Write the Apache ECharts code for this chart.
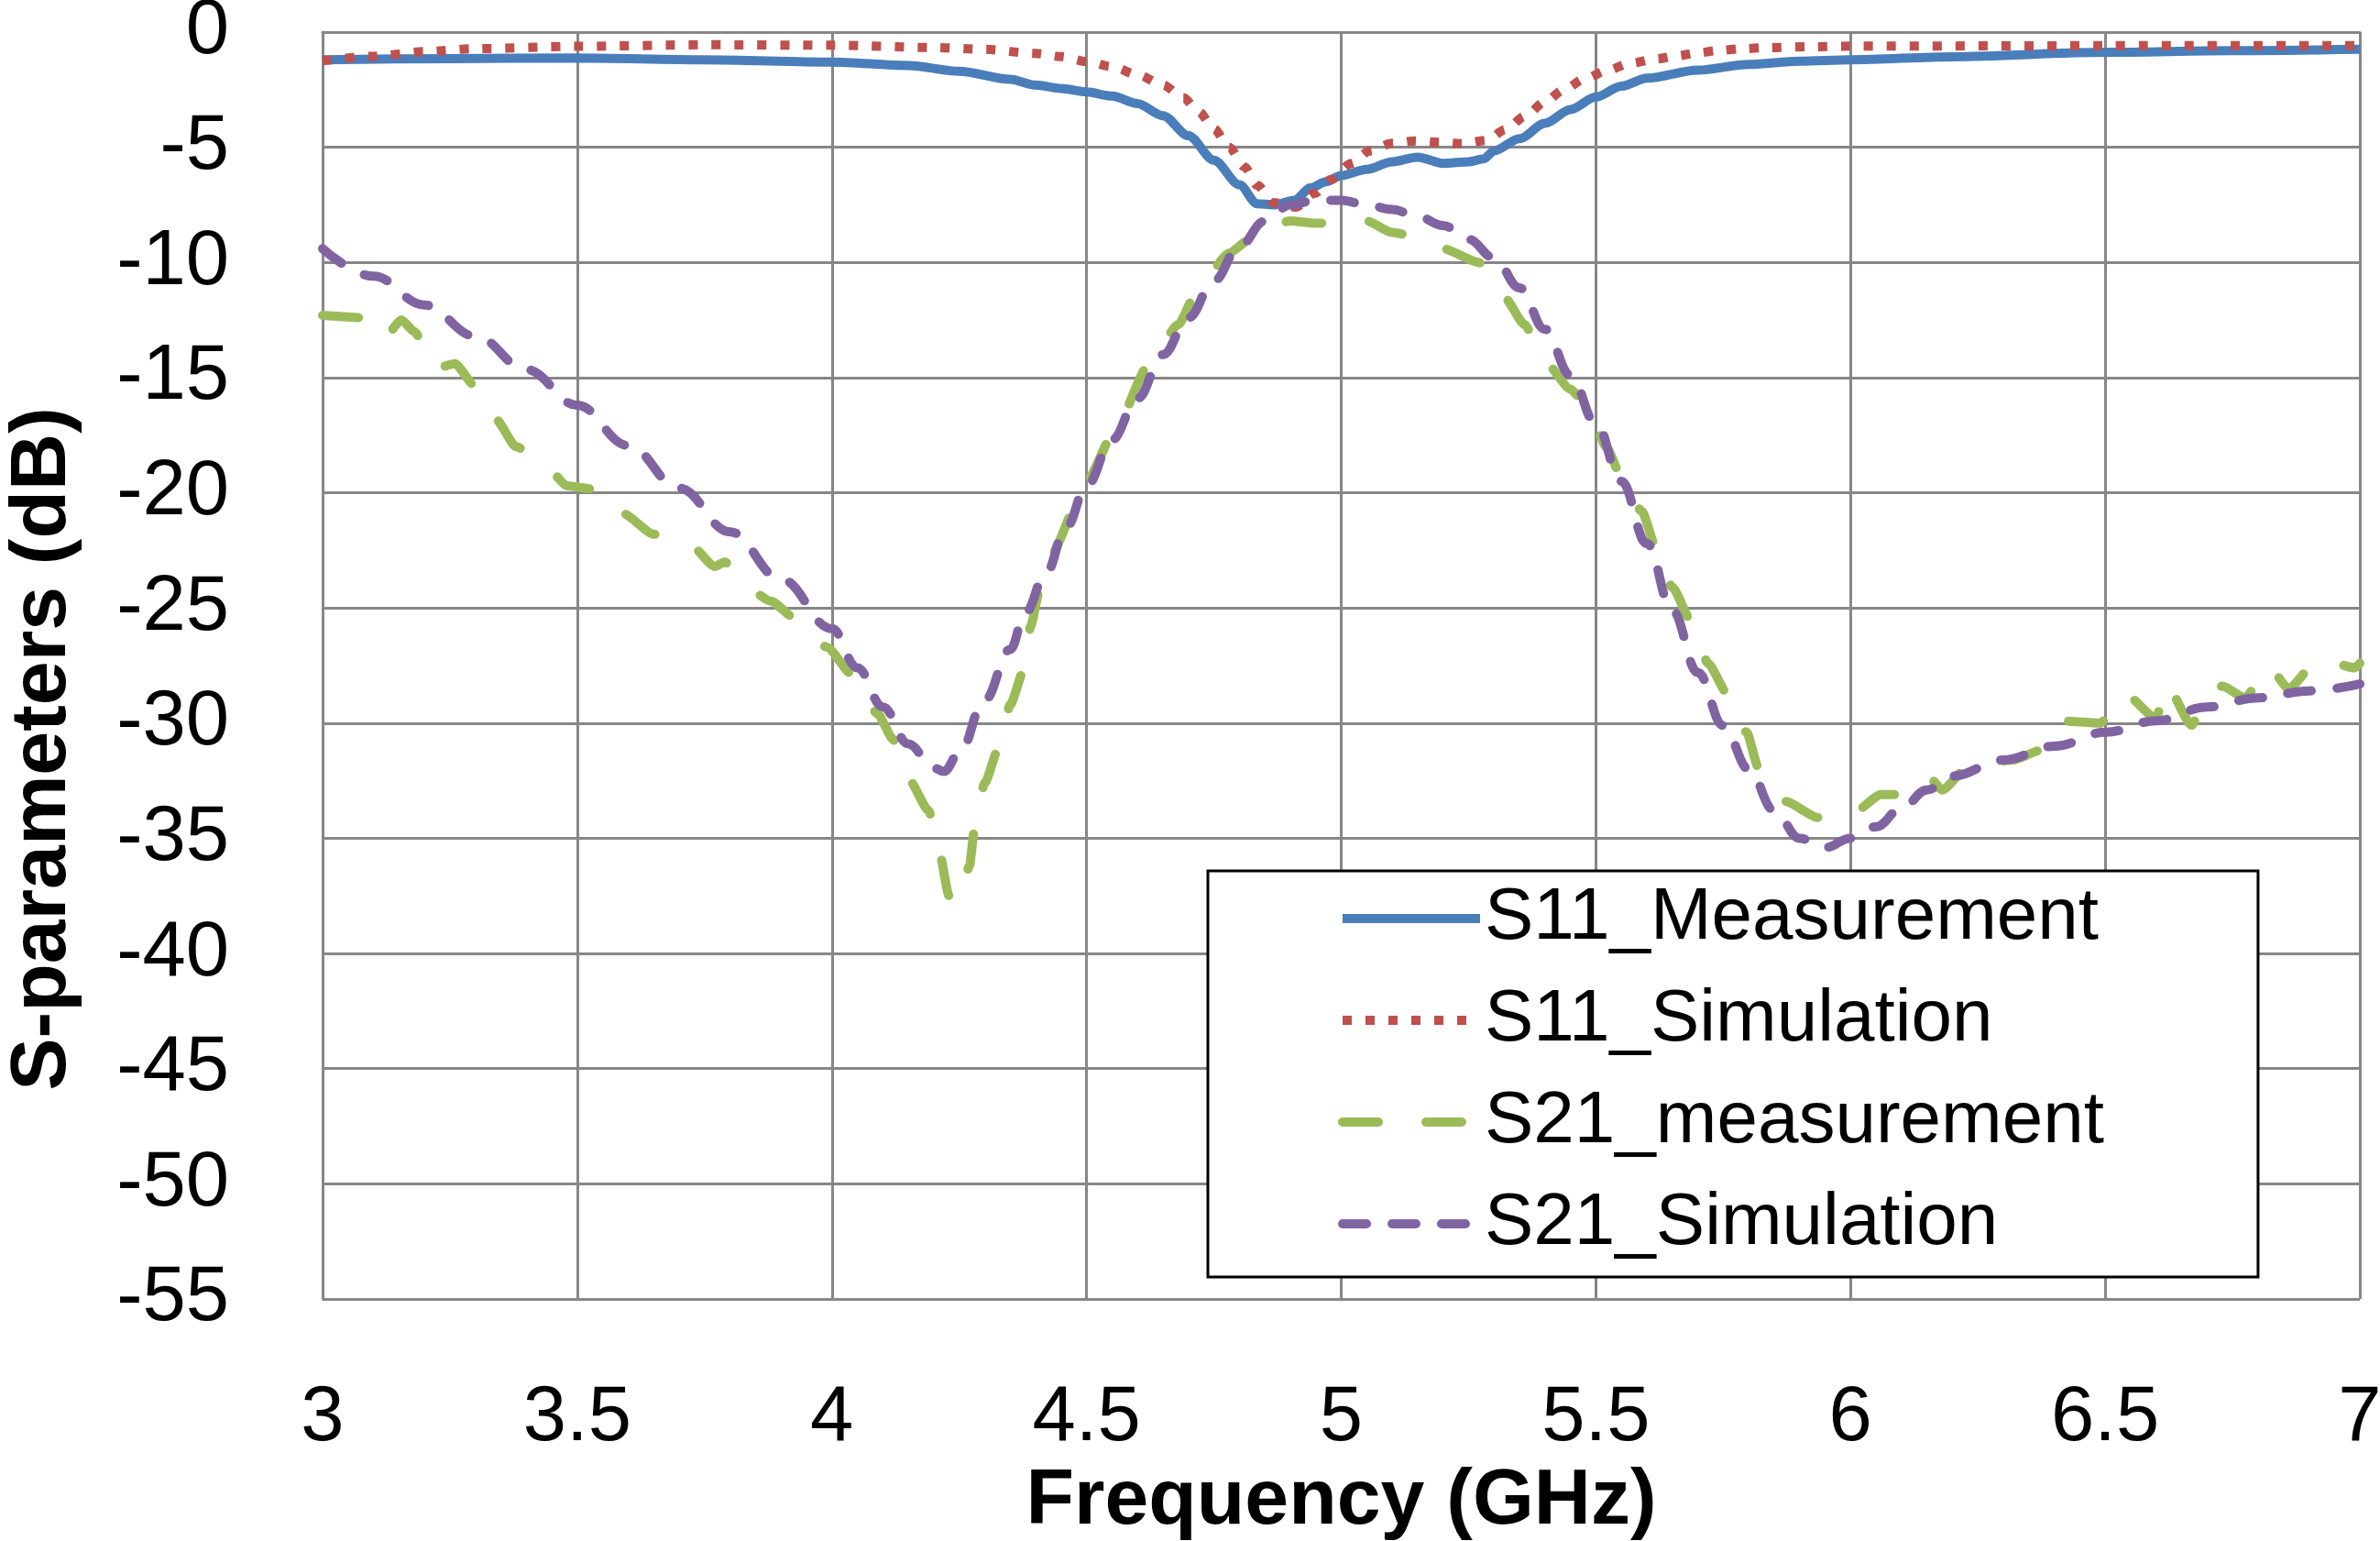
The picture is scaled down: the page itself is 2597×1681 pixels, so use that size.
<!DOCTYPE html>
<html>
<head>
<meta charset="utf-8">
<title>S-parameters</title>
<script src="https://cdn.jsdelivr.net/npm/echarts@6/dist/echarts.min.js"></script>
<style>
    html, body {margin: 0; padding: 0; background: #fff;}
    #chart {width: 2597px; height: 1681px;}
</style>
</head>
<body>
<div id="chart"></div>
<script>
// ------------------ data ------------------
const s11MeasFreq = [3.0, 3.25, 3.5, 3.75, 4.0, 4.15, 4.25, 4.35, 4.4, 4.45, 4.5, 4.55, 4.6, 4.65, 4.7, 4.75, 4.8, 4.835, 4.868, 4.908,
    4.94, 4.97, 5.0, 5.05, 5.1, 5.15, 5.2, 5.25, 5.28, 5.3, 5.35, 5.4, 5.45, 5.5, 5.55, 5.6, 5.7, 5.8, 5.9, 6.0, 6.2, 6.5, 6.75, 7.0];
const s11MeasDb = [-1.2, -1.15, -1.12, -1.2, -1.3, -1.45, -1.7, -2.05, -2.3, -2.45, -2.6, -2.78, -3.1, -3.63, -4.5, -5.56, -6.63, -7.45, -7.5, -7.3,
    -6.76, -6.5, -6.23, -5.96, -5.63, -5.43, -5.7, -5.63, -5.5, -5.16, -4.63, -3.96, -3.36, -2.82, -2.35, -2.0, -1.65, -1.4, -1.26, -1.2, -1.07, -0.88, -0.81, -0.75];

const s11SimFreq = [3.0, 3.1, 3.2, 3.3, 3.5, 3.75, 4.0, 4.2, 4.3, 4.4, 4.45, 4.5, 4.55, 4.6, 4.65, 4.69, 4.72, 4.75, 4.78, 4.81,
    4.835, 4.866, 4.91, 4.948, 4.98, 5.02, 5.056, 5.1, 5.144, 5.193, 5.237, 5.285, 5.323, 5.361, 5.4, 5.437, 5.478, 5.522, 5.566, 5.62,
    5.66, 5.7, 5.74, 5.79, 5.83, 5.92, 6.0, 6.5, 7.0];
const s11SimDb = [-1.25, -1.05, -0.85, -0.72, -0.62, -0.55, -0.57, -0.67, -0.75, -0.93, -1.06, -1.28, -1.5, -1.85, -2.3, -2.85, -3.45, -4.2, -5.0, -5.85,
    -6.65, -7.4, -7.6, -7.0, -6.4, -5.7, -5.16, -4.83, -4.73, -4.79, -4.84, -4.7, -4.23, -3.65, -3.03, -2.5, -2.03, -1.67, -1.36, -1.16,
    -1.03, -0.9, -0.8, -0.72, -0.68, -0.64, -0.61, -0.59, -0.59];

const s21MeasFreq = [3.0, 3.08, 3.12, 3.155, 3.18, 3.22, 3.26, 3.3, 3.34, 3.38, 3.43, 3.48, 3.55, 3.59, 3.65, 3.72, 3.77, 3.79, 3.82, 3.88,
    3.93, 3.99, 4.04, 4.09, 4.12, 4.15, 4.19, 4.21, 4.23, 4.25, 4.27, 4.28, 4.3, 4.33, 4.35, 4.38, 4.39, 4.41, 4.43, 4.5,
    4.56, 4.62, 4.68, 4.72, 4.78, 4.82, 4.85, 4.9, 4.95, 5.0, 5.05, 5.1, 5.15, 5.2, 5.27, 5.32, 5.36, 5.4, 5.45, 5.49,
    5.52, 5.55, 5.59, 5.62, 5.65, 5.69, 5.72, 5.76, 5.796, 5.82, 5.873, 5.935, 6.0, 6.06, 6.126, 6.157, 6.18, 6.234, 6.32, 6.37,
    6.41, 6.49, 6.538, 6.6, 6.62, 6.67, 6.7, 6.73, 6.775, 6.82, 6.86, 6.92, 6.99, 7.0];
const s21MeasDb = [-12.3, -12.4, -13.3, -12.5, -13.0, -14.6, -14.4, -15.4, -16.8, -18.0, -18.6, -19.7, -19.9, -20.9, -21.8, -22.2, -23.2, -23.0, -23.9, -24.7,
    -25.5, -26.7, -27.9, -29.6, -30.7, -32.4, -33.8, -35.5, -37.5, -37.8, -36.2, -34.6, -32.6, -30.9, -29.2, -27.5, -25.8, -24.0, -22.7, -19.5,
    -17.1, -14.5, -12.7, -11.1, -9.6, -9.0, -8.5, -8.2, -8.3, -8.3, -8.2, -8.7, -8.9, -9.4, -10.0, -11.5, -12.7, -14.3, -15.5, -16.5,
    -18.0, -19.3, -20.8, -22.5, -24.1, -25.7, -27.4, -28.8, -30.4, -32.0, -33.4, -34.1, -34.0, -33.1, -33.1, -32.4, -32.9, -31.8, -31.6, -31.2,
    -29.9, -30.0, -28.7, -29.8, -28.3, -30.1, -28.6, -28.4, -28.9, -27.5, -28.5, -27.2, -27.6, -27.4];

const s21SimFreq = [3.0, 3.1, 3.2, 3.3, 3.4, 3.5, 3.6, 3.7, 3.8, 3.9, 4.0, 4.05, 4.1, 4.15, 4.2, 4.22, 4.25, 4.3, 4.35, 4.38, 4.42,
    4.46, 4.5, 4.55, 4.6, 4.65, 4.7, 4.75, 4.8, 4.85, 4.9, 4.95, 5.0, 5.05, 5.1, 5.15, 5.2, 5.25, 5.3, 5.35, 5.4,
    5.45, 5.5, 5.55, 5.6, 5.65, 5.7, 5.75, 5.8, 5.85, 5.9, 5.95, 6.0, 6.05, 6.1, 6.15, 6.2, 6.3, 6.4, 6.5, 6.6,
    6.7, 6.8, 6.9, 7.0];
const s21SimDb = [-9.4, -10.6, -11.85, -13.2, -14.65, -16.2, -17.95, -19.8, -21.7, -23.75, -25.9, -27.6, -29.3, -30.9, -31.95, -32.1, -31.3, -29.0, -26.8, -25.2, -23.5,
    -21.5, -19.7, -17.7, -15.9, -14.0, -12.4, -10.8, -9.3, -8.2, -7.5, -7.3, -7.3, -7.5, -7.7, -8.0, -8.4, -9.0, -9.8, -11.1, -12.9,
    -14.9, -17.0, -19.5, -22.2, -25.1, -27.8, -30.1, -32.0, -33.8, -35.0, -35.4, -35.0, -34.5, -33.7, -32.9, -32.3, -31.6, -31.0, -30.4, -29.9,
    -29.3, -28.9, -28.6, -28.3];

const seriesNames = ['S11_Measurement', 'S11_Simulation', 'S21_measurement', 'S21_Simulation'];
const seriesColors = ['#4a7ebb', '#c0504d', '#9bbb59', '#8064a2'];

function pairs(xs, ys) {
    return xs.map(function (x, i) {
        return [x, ys[i]];
    });
}

const FONT = 'Liberation Sans';
const GRID_COLOR = '#878787';
const LINE_W = 10;

let myChart = echarts.init(document.getElementById('chart'), null, {renderer: 'canvas'});

let option = {
    animation: false,
    backgroundColor: '#fff',
    textStyle: {fontFamily: FONT, color: '#000'},
    grid: {
        left: 352,
        right: 22,
        top: 35,
        bottom: 264,
        outerBoundsMode: 'none'
    },
    xAxis: {
        type: 'value',
        min: 3,
        max: 7,
        interval: 0.5,
        name: 'Frequency (GHz)',
        nameLocation: 'middle',
        nameGap: 170,
        nameTextStyle: {fontFamily: FONT, fontSize: 86, fontWeight: 'bold', color: '#000'},
        axisLine: {lineStyle: {color: GRID_COLOR, width: 3}},
        axisTick: {show: false},
        axisLabel: {fontFamily: FONT, fontSize: 85, color: '#000', margin: 88},
        splitLine: {show: true, lineStyle: {color: GRID_COLOR, width: 3}}
    },
    yAxis: {
        type: 'value',
        min: -55,
        max: 0,
        interval: 5,
        name: 'S-parameters (dB)',
        nameLocation: 'middle',
        nameRotate: 90,
        nameGap: 262,
        nameTextStyle: {fontFamily: FONT, fontSize: 86, fontWeight: 'bold', color: '#000', padding: [0, 182, 0, 0]},
        axisLine: {show: true, lineStyle: {color: GRID_COLOR, width: 3}},
        axisTick: {show: false},
        axisLabel: {fontFamily: FONT, fontSize: 85, color: '#000', margin: 102},
        splitLine: {show: true, lineStyle: {color: GRID_COLOR, width: 3}}
    },
    legend: {
        orient: 'vertical',
        left: 1318,
        top: 950,
        padding: [7, 168, 13, 142],
        backgroundColor: '#fff',
        borderColor: '#000',
        borderWidth: 3,
        borderRadius: 0,
        itemWidth: 150,
        itemHeight: 14,
        itemGap: 21,
        itemStyle: {color: 'rgba(0,0,0,0)', borderWidth: 0},
        lineStyle: {width: LINE_W},
        textStyle: {fontFamily: FONT, fontSize: 80, lineHeight: 90, color: '#000'},
        data: seriesNames
    },
    series: [
        {
            name: seriesNames[0],
            type: 'line',
            symbol: 'none',
            smooth: 0.3,
            smoothMonotone: 'x',
            color: seriesColors[0],
            lineStyle: {width: LINE_W, color: seriesColors[0], type: 'solid'},
            data: pairs(s11MeasFreq, s11MeasDb)
        },
        {
            name: seriesNames[1],
            type: 'line',
            symbol: 'none',
            smooth: 0.3,
            smoothMonotone: 'x',
            color: seriesColors[1],
            lineStyle: {width: LINE_W, color: seriesColors[1], type: [10, 15], cap: 'butt'},
            data: pairs(s11SimFreq, s11SimDb)
        },
        {
            name: seriesNames[2],
            type: 'line',
            symbol: 'none',
            smooth: 0.2,
            smoothMonotone: 'x',
            color: seriesColors[2],
            lineStyle: {width: LINE_W, color: seriesColors[2], type: [39, 52], cap: 'round'},
            data: pairs(s21MeasFreq, s21MeasDb)
        },
        {
            name: seriesNames[3],
            type: 'line',
            symbol: 'none',
            smooth: 0.4,
            smoothMonotone: 'x',
            color: seriesColors[3],
            lineStyle: {width: LINE_W, color: seriesColors[3], type: [26, 28], cap: 'round'},
            data: pairs(s21SimFreq, s21SimDb)
        }
    ]
};

if (option && typeof option === "object") {
    myChart.setOption(option, true);
}
</script>
</body>
</html>
